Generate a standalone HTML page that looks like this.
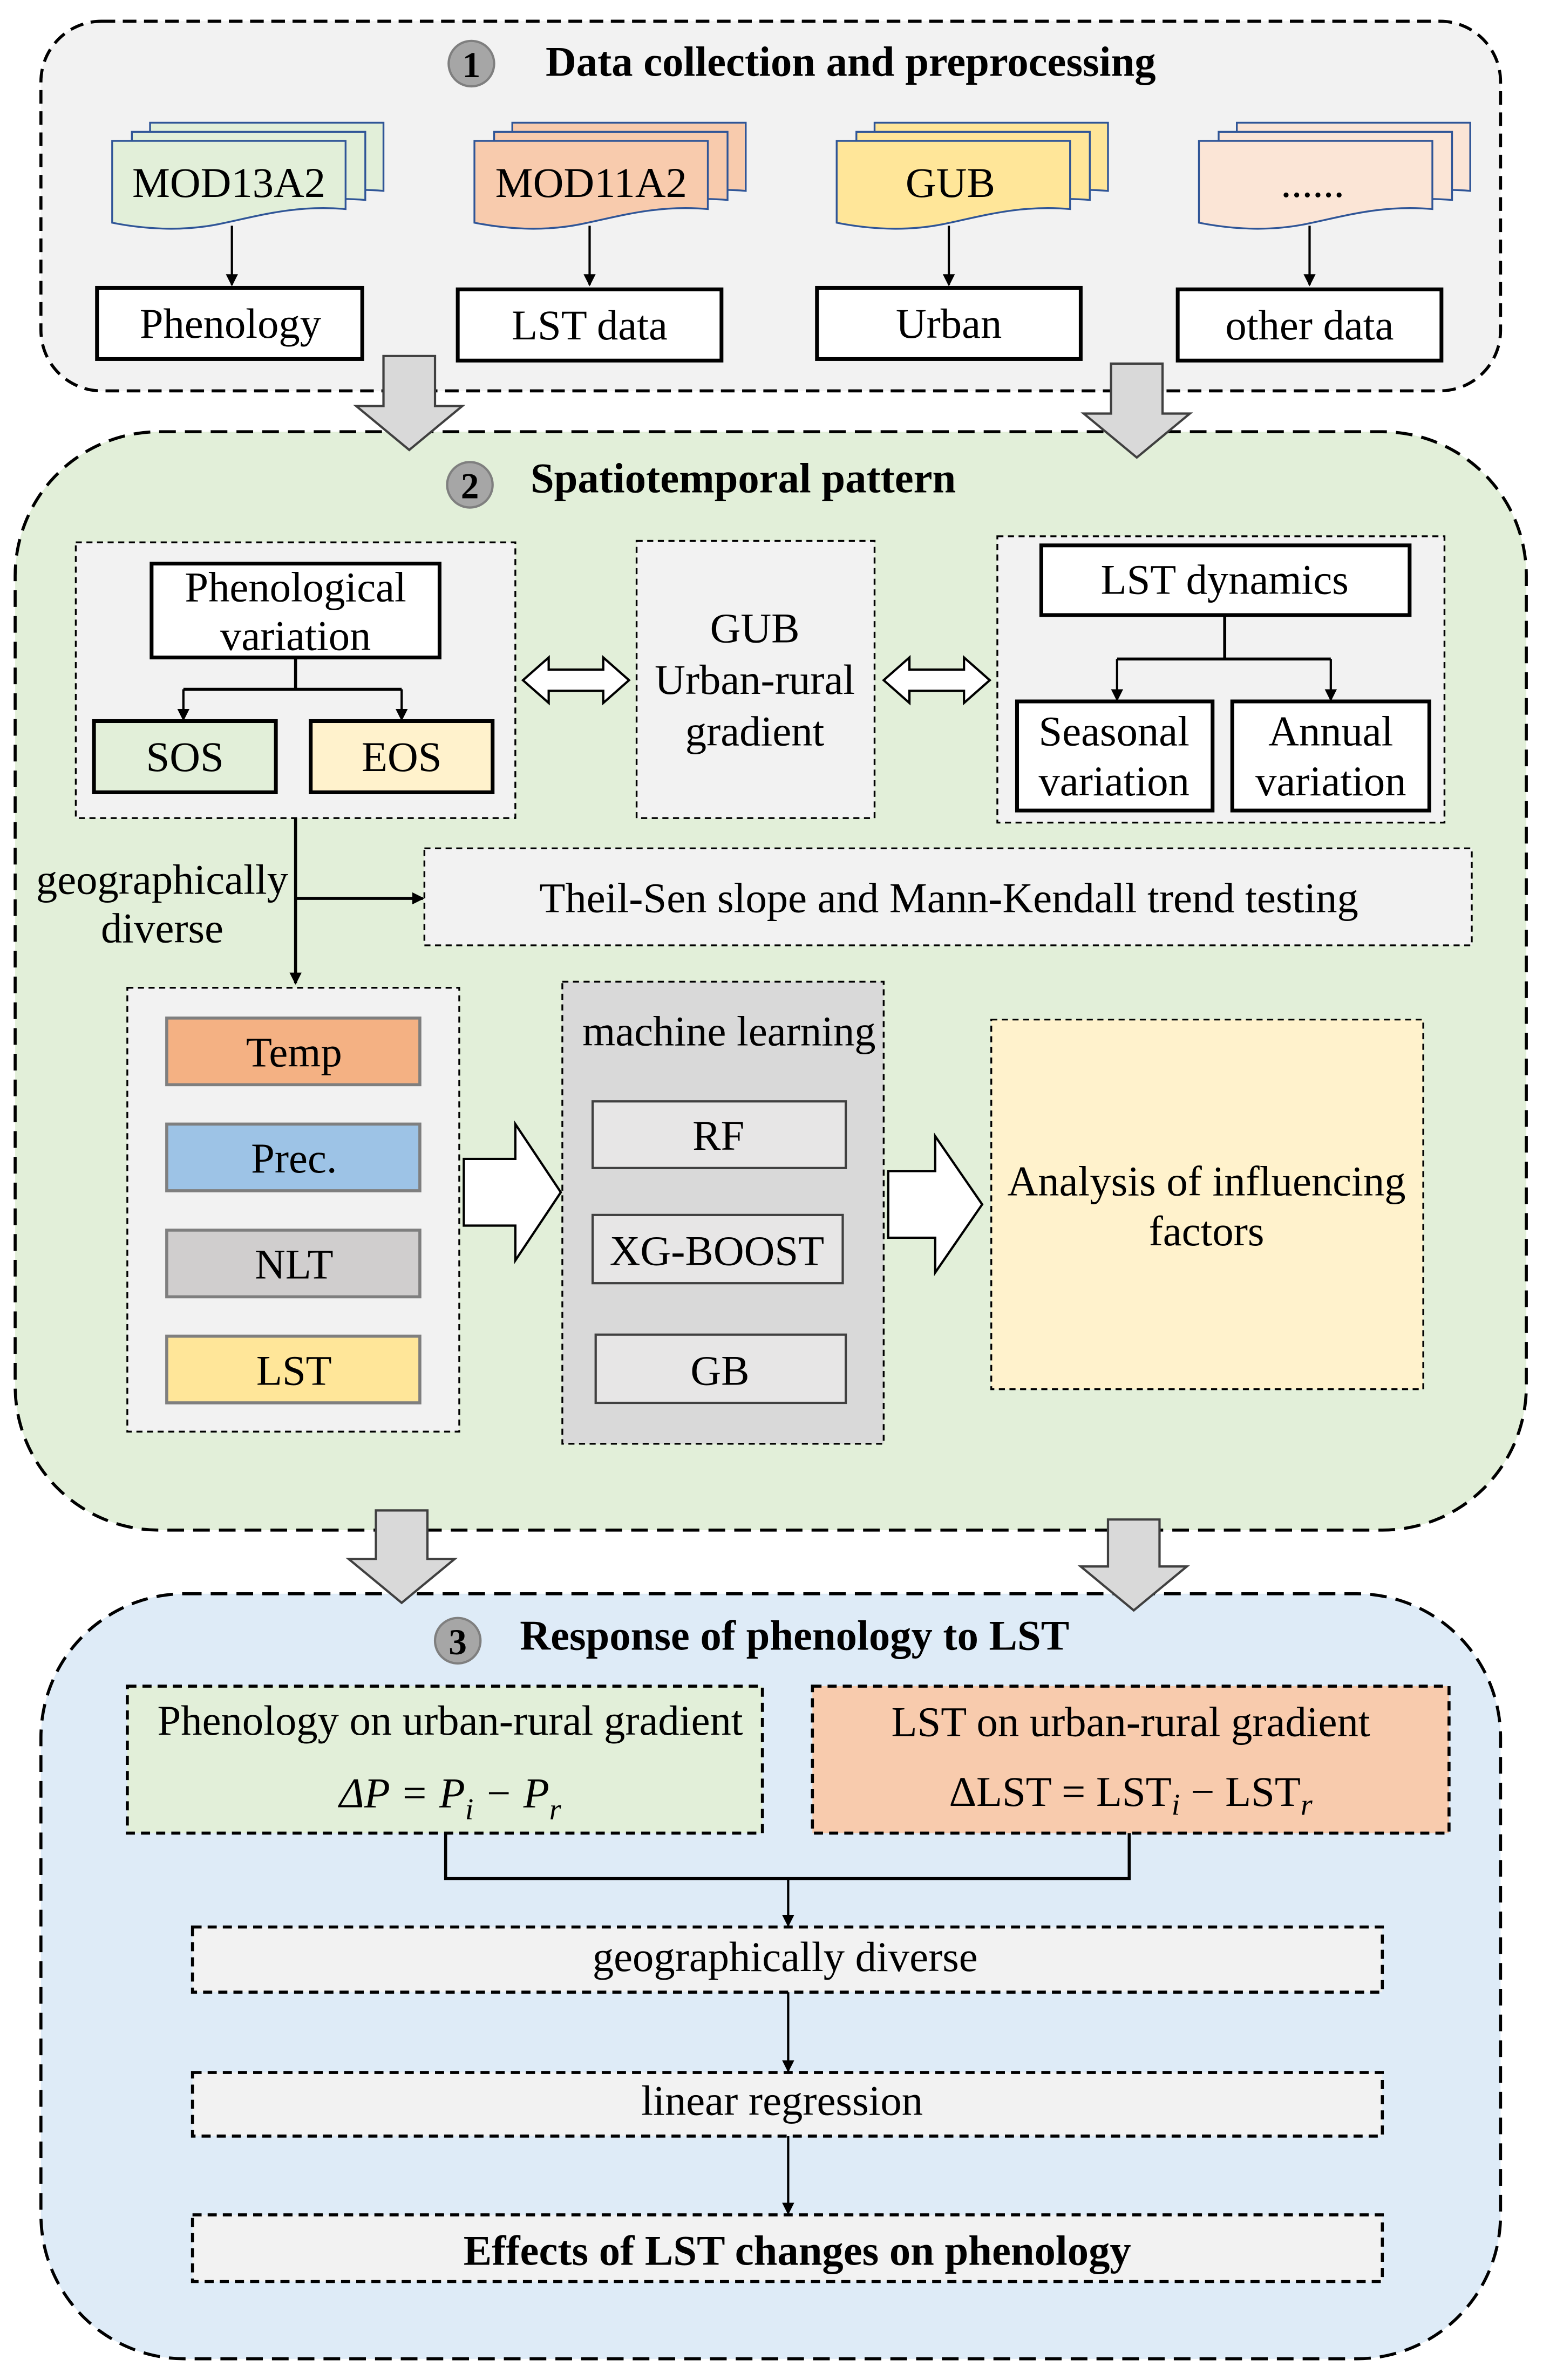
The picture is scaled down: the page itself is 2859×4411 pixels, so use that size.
<!DOCTYPE html>
<html><head><meta charset="utf-8"><style>
html,body{margin:0;padding:0;background:#fff;}
svg{display:block;}
text{font-family:"Liberation Serif",serif;fill:#000;}
</style></head><body>
<svg width="2859" height="4411" viewBox="0 0 1018 1571" preserveAspectRatio="none" xmlns="http://www.w3.org/2000/svg">
<defs>
<marker id="ah" markerWidth="8" markerHeight="8" refX="7" refY="4" orient="auto" markerUnits="userSpaceOnUse"><path d="M0,0 L8,4 L0,8 Z" fill="#000"/></marker>
<g id="doc"><path d="M0,0 H154 V45 C120,42 95,50 70,55 C45,60 20,58 0,54 Z"/></g>
</defs>

<!-- Panel 1 -->
<rect x="27" y="14" width="963" height="244" rx="40" fill="#f2f2f2" stroke="#000" stroke-width="2" stroke-dasharray="9,5"/>
<circle cx="311" cy="42" r="15" fill="#a6a6a6" stroke="#7f7f7f" stroke-width="1.5"/>
<text x="311" y="51" font-size="24" font-weight="bold" text-anchor="middle">1</text>
<text x="360" y="50" font-size="28" font-weight="bold">Data collection and preprocessing</text>

<g stroke="#2f5597" stroke-width="1.2">
 <g fill="#e2efd9"><use href="#doc" x="99" y="81"/><use href="#doc" x="87" y="87"/><use href="#doc" x="74" y="93"/></g>
 <g fill="#f8cbad"><use href="#doc" x="338" y="81"/><use href="#doc" x="326" y="87"/><use href="#doc" x="313" y="93"/></g>
 <g fill="#ffe699"><use href="#doc" x="577" y="81"/><use href="#doc" x="565" y="87"/><use href="#doc" x="552" y="93"/></g>
 <g fill="#fbe5d6"><use href="#doc" x="816" y="81"/><use href="#doc" x="804" y="87"/><use href="#doc" x="791" y="93"/></g>
</g>
<g font-size="28" text-anchor="middle">
<text x="151" y="130">MOD13A2</text><text x="390" y="130">MOD11A2</text><text x="627" y="130">GUB</text><text x="866" y="130">......</text>
</g>
<g stroke="#000" stroke-width="1.5" marker-end="url(#ah)">
<line x1="153" y1="149" x2="153" y2="188"/><line x1="389" y1="149" x2="389" y2="188"/><line x1="626" y1="149" x2="626" y2="188"/><line x1="864" y1="149" x2="864" y2="188"/>
</g>
<g fill="#fff" stroke="#000" stroke-width="2.5">
<rect x="64" y="190" width="175" height="47"/><rect x="302" y="191" width="174" height="47"/><rect x="539" y="190" width="174" height="47"/><rect x="777" y="191" width="174" height="47"/>
</g>
<g font-size="28" text-anchor="middle">
<text x="152" y="223">Phenology</text><text x="389" y="224">LST data</text><text x="626" y="223">Urban</text><text x="864" y="224">other data</text>
</g>

<!-- Panel 2 -->
<rect x="10" y="285" width="997" height="725" rx="95" fill="#e2efd9" stroke="#000" stroke-width="2" stroke-dasharray="11,6"/>
<circle cx="310" cy="320" r="15" fill="#a6a6a6" stroke="#7f7f7f" stroke-width="1.5"/>
<text x="310" y="329" font-size="24" font-weight="bold" text-anchor="middle">2</text>
<text x="350" y="325" font-size="28" font-weight="bold">Spatiotemporal pattern</text>

<g fill="#d9d9d9" stroke="#404040" stroke-width="1.5">
<path d="M253,235 H287 V268 H305 L270,297 L235,268 H253 Z"/>
<path d="M733,240 H767 V273 H785 L750,302 L715,273 H733 Z"/>
</g>

<rect x="50" y="358" width="290" height="182" fill="#f2f2f2" stroke="#000" stroke-width="1.2" stroke-dasharray="4,3"/>
<rect x="100" y="372" width="190" height="62" fill="#fff" stroke="#000" stroke-width="2.5"/>
<text x="195" y="397" font-size="28" text-anchor="middle">Phenological</text>
<text x="195" y="429" font-size="28" text-anchor="middle">variation</text>
<path d="M195,434 V455 M121,455 H265" stroke="#000" stroke-width="2" fill="none"/>
<line x1="121" y1="455" x2="121" y2="475" stroke="#000" stroke-width="1.5" marker-end="url(#ah)"/>
<line x1="265" y1="455" x2="265" y2="475" stroke="#000" stroke-width="1.5" marker-end="url(#ah)"/>
<rect x="62" y="476" width="120" height="47" fill="#e2efd9" stroke="#000" stroke-width="2.5"/>
<rect x="205" y="476" width="120" height="47" fill="#fff2cc" stroke="#000" stroke-width="2.5"/>
<text x="122" y="509" font-size="28" text-anchor="middle">SOS</text>
<text x="265" y="509" font-size="28" text-anchor="middle">EOS</text>

<rect x="420" y="357" width="157" height="183" fill="#f2f2f2" stroke="#000" stroke-width="1.2" stroke-dasharray="4,3"/>
<g font-size="28" text-anchor="middle"><text x="498" y="424">GUB</text><text x="498" y="458">Urban-rural</text><text x="498" y="492">gradient</text></g>

<g fill="#fff" stroke="#000" stroke-width="1.5">
<path d="M345,449 L362,434 V442 H398 V434 L415,449 L398,464 V456 H362 V464 Z"/>
<path d="M583,449 L600,434 V442 H636 V434 L653,449 L636,464 V456 H600 V464 Z"/>
</g>

<rect x="658" y="354" width="295" height="189" fill="#f2f2f2" stroke="#000" stroke-width="1.2" stroke-dasharray="4,3"/>
<rect x="687" y="360" width="243" height="46" fill="#fff" stroke="#000" stroke-width="2.5"/>
<text x="808" y="392" font-size="28" text-anchor="middle">LST dynamics</text>
<path d="M808,406 V435 M737,435 H878" stroke="#000" stroke-width="2" fill="none"/>
<line x1="737" y1="435" x2="737" y2="462" stroke="#000" stroke-width="1.5" marker-end="url(#ah)"/>
<line x1="878" y1="435" x2="878" y2="462" stroke="#000" stroke-width="1.5" marker-end="url(#ah)"/>
<rect x="671" y="463" width="129" height="72" fill="#fff" stroke="#000" stroke-width="2.5"/>
<rect x="813" y="463" width="130" height="72" fill="#fff" stroke="#000" stroke-width="2.5"/>
<g font-size="28" text-anchor="middle"><text x="735" y="492">Seasonal</text><text x="735" y="525">variation</text><text x="878" y="492">Annual</text><text x="878" y="525">variation</text></g>

<text x="107" y="590" font-size="28" text-anchor="middle">geographically</text>
<text x="107" y="622" font-size="28" text-anchor="middle">diverse</text>
<line x1="195" y1="540" x2="195" y2="649" stroke="#000" stroke-width="2" marker-end="url(#ah)"/>
<line x1="195" y1="593" x2="279" y2="593" stroke="#000" stroke-width="2" marker-end="url(#ah)"/>
<rect x="280" y="560" width="691" height="64" fill="#f2f2f2" stroke="#000" stroke-width="1.2" stroke-dasharray="4,3"/>
<text x="626" y="602" font-size="28" text-anchor="middle">Theil-Sen slope and Mann-Kendall trend testing</text>

<rect x="84" y="652" width="219" height="293" fill="#f2f2f2" stroke="#000" stroke-width="1.2" stroke-dasharray="4,3"/>
<g stroke="#7f7f7f" stroke-width="2">
<rect x="110" y="672" width="167" height="44" fill="#f4b183"/>
<rect x="110" y="742" width="167" height="44" fill="#9dc3e6"/>
<rect x="110" y="812" width="167" height="44" fill="#d0cece"/>
<rect x="110" y="882" width="167" height="44" fill="#ffe699"/>
</g>
<g font-size="28" text-anchor="middle"><text x="194" y="704">Temp</text><text x="194" y="774">Prec.</text><text x="194" y="844">NLT</text><text x="194" y="914">LST</text></g>

<g fill="#fff" stroke="#000" stroke-width="1.5">
<path d="M306,765 H340 V742 L370,787 L340,832 V809 H306 Z"/>
<path d="M586,773 H617 V750 L648,795 L617,840 V817 H586 Z"/>
</g>

<rect x="371" y="648" width="212" height="305" fill="#d9d9d9" stroke="#000" stroke-width="1.2" stroke-dasharray="4,3"/>
<text x="481" y="690" font-size="28" text-anchor="middle">machine learning</text>
<g fill="#e7e6e6" stroke="#404040" stroke-width="1.5">
<rect x="391" y="727" width="167" height="44"/><rect x="391" y="802" width="165" height="45"/><rect x="393" y="881" width="165" height="45"/>
</g>
<g font-size="28" text-anchor="middle"><text x="474" y="759">RF</text><text x="473" y="835">XG-BOOST</text><text x="475" y="914">GB</text></g>

<rect x="654" y="673" width="285" height="244" fill="#fff2cc" stroke="#000" stroke-width="1.2" stroke-dasharray="4,3"/>
<text x="796" y="789" font-size="28" text-anchor="middle">Analysis of influencing</text>
<text x="796" y="822" font-size="28" text-anchor="middle">factors</text>

<!-- Panel 3 -->
<rect x="27" y="1052" width="963" height="505" rx="95" fill="#deebf7" stroke="#000" stroke-width="2" stroke-dasharray="11,6"/>
<g fill="#d9d9d9" stroke="#404040" stroke-width="1.5">
<path d="M248,997 H282 V1029 H300 L265,1058 L230,1029 H248 Z"/>
<path d="M731,1003 H765 V1034 H783 L748,1063 L713,1034 H731 Z"/>
</g>
<circle cx="302" cy="1083" r="15" fill="#a6a6a6" stroke="#7f7f7f" stroke-width="1.5"/>
<text x="302" y="1092" font-size="24" font-weight="bold" text-anchor="middle">3</text>
<text x="343" y="1089" font-size="28" font-weight="bold">Response of phenology to LST</text>

<rect x="84" y="1113" width="419" height="97" fill="#e2efd9" stroke="#000" stroke-width="2" stroke-dasharray="6,4"/>
<rect x="536" y="1113" width="420" height="97" fill="#f8cbad" stroke="#000" stroke-width="2" stroke-dasharray="6,4"/>
<text x="297" y="1145" font-size="28" text-anchor="middle">Phenology on urban-rural gradient</text>
<text x="746" y="1146" font-size="28" text-anchor="middle">LST on urban-rural gradient</text>
<text x="297" y="1193" font-size="28" text-anchor="middle" font-style="italic">ΔP = P<tspan font-size="20" dy="8">i</tspan><tspan dy="-8"> − P</tspan><tspan font-size="20" dy="8">r</tspan></text>
<text x="746" y="1192" font-size="28" text-anchor="middle">ΔLST = LST<tspan font-size="20" dy="6" font-style="italic">i</tspan><tspan dy="-6"> − LST</tspan><tspan font-size="20" dy="6" font-style="italic">r</tspan></text>
<path d="M294,1210 V1240 H745 V1210" stroke="#000" stroke-width="2" fill="none"/>
<line x1="520" y1="1240" x2="520" y2="1271" stroke="#000" stroke-width="1.5" marker-end="url(#ah)"/>
<g fill="#f2f2f2" stroke="#000" stroke-width="2" stroke-dasharray="6,4">
<rect x="127" y="1272" width="785" height="43"/><rect x="127" y="1368" width="785" height="42"/><rect x="127" y="1462" width="785" height="44"/>
</g>
<line x1="520" y1="1315" x2="520" y2="1367" stroke="#000" stroke-width="1.5" marker-end="url(#ah)"/>
<line x1="520" y1="1410" x2="520" y2="1461" stroke="#000" stroke-width="1.5" marker-end="url(#ah)"/>
<text x="518" y="1301" font-size="28" text-anchor="middle">geographically diverse</text>
<text x="516" y="1396" font-size="28" text-anchor="middle">linear regression</text>
<text x="526" y="1495" font-size="28" font-weight="bold" text-anchor="middle">Effects of LST changes on phenology</text>
</svg>
</body></html>
